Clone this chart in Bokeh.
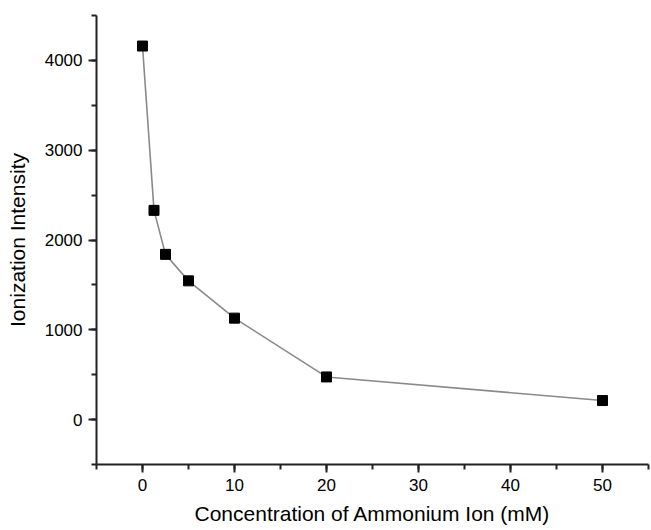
from bokeh.plotting import figure
from bokeh.models import SingleIntervalTicker, Range1d
from bokeh.embed import file_html
from bokeh.resources import INLINE

concentration_mM = [0, 1.25, 2.5, 5, 10, 20, 50]
ionization_intensity = [4160, 2330, 1840, 1545, 1130, 475, 212]

x_label = "Concentration of Ammonium Ion (mM)"
y_label = "Ionization Intensity"

FONT = "Liberation Sans"

p = figure(width=651, height=530, output_backend="svg", toolbar_location=None,
           x_range=Range1d(-5, 55), y_range=Range1d(-500, 4500),
           min_border_left=96, min_border_right=3, min_border_top=15, min_border_bottom=66)

p.outline_line_color = None
p.grid.visible = False
p.background_fill_color = "white"
p.border_fill_color = "white"

p.line(concentration_mM, ionization_intensity, line_color="#8a8a8a", line_width=1.6)
p.scatter(concentration_mM, ionization_intensity, marker="square", size=10,
          fill_color="black", line_color="black")

p.xaxis.ticker = SingleIntervalTicker(interval=10, num_minor_ticks=2)
p.yaxis.ticker = SingleIntervalTicker(interval=1000, num_minor_ticks=2)

for ax in (p.xaxis, p.yaxis):
    ax.axis_line_width = 2
    ax.axis_line_color = "#222222"
    ax.major_tick_line_width = 2
    ax.minor_tick_line_width = 2
    ax.major_tick_line_color = "#222222"
    ax.minor_tick_line_color = "#222222"
    ax.major_tick_out = 8
    ax.major_tick_in = 0
    ax.minor_tick_out = 5
    ax.minor_tick_in = 0
    ax.major_label_text_font = FONT
    ax.major_label_text_font_size = "17px"
    ax.major_label_text_color = "black"
    ax.axis_label_text_font = FONT
    ax.axis_label_text_font_size = "21px"
    ax.axis_label_text_font_style = "normal"
    ax.axis_label_text_color = "black"

p.xaxis.axis_label = x_label
p.yaxis.axis_label = y_label
p.xaxis.major_label_standoff = 6
p.xaxis.axis_label_standoff = 8
p.yaxis.major_label_standoff = 6
p.yaxis.axis_label_standoff = 13

open("out.html", "w").write(file_html(p, INLINE))
